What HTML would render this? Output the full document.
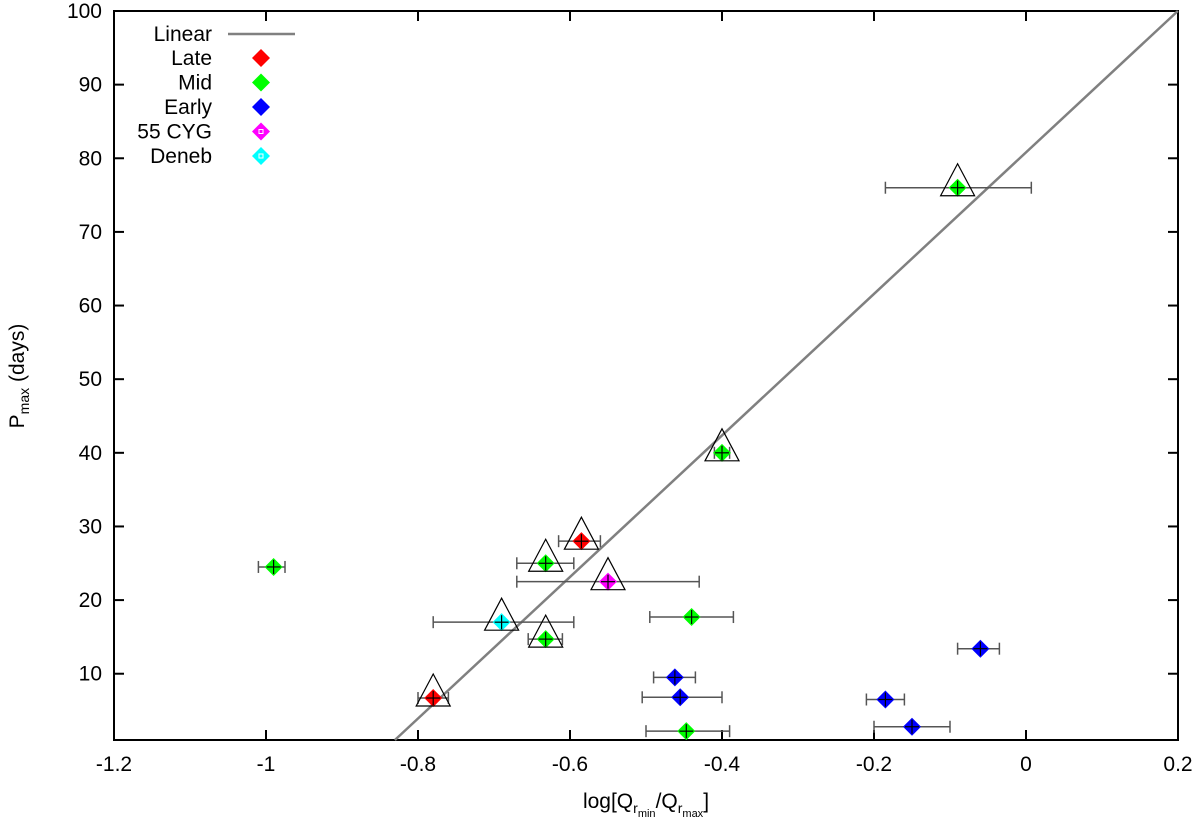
<!DOCTYPE html>
<html><head><meta charset="utf-8"><style>
body{margin:0;background:#fff;width:1200px;height:819px;overflow:hidden}
svg text{font-family:"Liberation Sans",sans-serif;font-size:21px;fill:#000}
</style></head><body>
<svg id="chart" width="1200" height="819" viewBox="0 0 1200 819" xmlns="http://www.w3.org/2000/svg">
<g id="axes"></g>
<g id="marks"></g>
<g id="legend"></g>
</svg>
<script>
const xTicks=[-1.2,-1,-0.8,-0.6,-0.4,-0.2,0,0.2];
const xTickLabels=["-1.2","-1","-0.8","-0.6","-0.4","-0.2","0","0.2"];
const yTicks=[10,20,30,40,50,60,70,80,90,100];
const ptX=[-0.09,-0.40,-0.585,-0.632,-0.55,-0.69,-0.632,-0.78,-0.99,-0.44,-0.462,-0.455,-0.447,-0.06,-0.185,-0.15];
const ptY=[76,40,28,25,22.5,17,14.7,6.7,24.5,17.7,9.5,6.8,2.2,13.4,6.5,2.8];
const errLo=[-0.185,-0.41,-0.615,-0.67,-0.67,-0.78,-0.655,-0.80,-1.01,-0.495,-0.49,-0.505,-0.50,-0.09,-0.21,-0.20];
const errHi=[0.007,-0.39,-0.56,-0.595,-0.43,-0.595,-0.61,-0.76,-0.975,-0.385,-0.435,-0.40,-0.39,-0.035,-0.16,-0.10];
const ptClass=["Mid","Mid","Late","Mid","55 CYG","Deneb","Mid","Late","Mid","Mid","Early","Early","Mid","Early","Early","Early"];
const ptTri=[1,1,1,1,1,1,1,1,0,0,0,0,0,0,0,0];
const fitSlope=96.1, fitIntercept=80.8;
const classes=["Late","Mid","Early","55 CYG","Deneb"];
const classColors=["#ff0000","#00ff00","#0000ff","#ff00ff","#00ffff"];

const L=114,R=1178,T=11,B=740,XMIN=-1.2,XMAX=0.2,YMIN=1,YMAX=100;
const sx=v=>L+(v-XMIN)/(XMAX-XMIN)*(R-L);
const sy=v=>B-(v-YMIN)/(YMAX-YMIN)*(B-T);
const NS="http://www.w3.org/2000/svg";
function mk(parent,tag,attrs){const e=document.createElementNS(NS,tag);for(const k in attrs)e.setAttribute(k,attrs[k]);parent.appendChild(e);return e;}
const axes=document.getElementById('axes'),marks=document.getElementById('marks'),leg=document.getElementById('legend');

let f=mk(axes,'rect',{x:L,y:T,width:R-L,height:B-T,fill:'none',stroke:'#000','stroke-width':2});

xTicks.forEach((v,i)=>{const x=sx(v);
 mk(axes,'line',{x1:x,x2:x,y1:B,y2:B-10,stroke:'#000','stroke-width':2});
 mk(axes,'line',{x1:x,x2:x,y1:T,y2:T+10,stroke:'#000','stroke-width':2});
 const t=mk(axes,'text',{x:x,y:B+31,'text-anchor':'middle'});t.textContent=xTickLabels[i];
 });
yTicks.forEach(v=>{const y=sy(v);
 mk(axes,'line',{x1:L,x2:L+10,y1:y,y2:y,stroke:'#000','stroke-width':2});
 mk(axes,'line',{x1:R,x2:R-10,y1:y,y2:y,stroke:'#000','stroke-width':2});
 const t=mk(axes,'text',{x:L-12,y:y+7,'text-anchor':'end'});t.textContent=v;
 });
let xt=mk(axes,'text',{x:646,y:808,'text-anchor':'middle'});
xt.innerHTML='log[Q<tspan font-size="14" dy="5">r</tspan><tspan font-size="11" dy="4">min</tspan><tspan dy="-9">/Q</tspan><tspan font-size="14" dy="5">r</tspan><tspan font-size="11" dy="4">max</tspan><tspan dy="-9">]</tspan>';

let yt=mk(axes,'text',{x:0,y:0,transform:'translate(24,376) rotate(-90)','text-anchor':'middle'});
yt.innerHTML='P<tspan font-size="14" dy="5">max</tspan><tspan dy="-5"> (days)</tspan>';


const x0=(YMIN-fitIntercept)/fitSlope, x1=Math.min(XMAX,(YMAX-fitIntercept)/fitSlope);
let fl=mk(marks,'line',{x1:sx(x0),y1:sy(YMIN),x2:sx(x1),y2:sy(fitSlope*x1+fitIntercept),stroke:'#808080','stroke-width':2.5});


function diamond(g,cx,cy,r,c){return mk(g,'polygon',{points:`${cx},${cy-r} ${cx+r},${cy} ${cx},${cy+r} ${cx-r},${cy}`,fill:c});}
ptX.forEach((v,i)=>{
 const g=mk(marks,'g',{});
 
 const cx=sx(v),cy=sy(ptY[i]);const c=classColors[classes.indexOf(ptClass[i])];
 const a=sx(errLo[i]),b=sx(errHi[i]);
 mk(g,'line',{x1:a,x2:b,y1:cy,y2:cy,stroke:'#555','stroke-width':1.5});
 mk(g,'line',{x1:a,x2:a,y1:cy-6,y2:cy+6,stroke:'#555','stroke-width':1.5});
 mk(g,'line',{x1:b,x2:b,y1:cy-6,y2:cy+6,stroke:'#555','stroke-width':1.5});
 diamond(g,cx,cy,9,c);
 mk(g,'line',{x1:cx,x2:cx,y1:cy-7,y2:cy+7,stroke:'#000','stroke-width':1.2});
 mk(g,'line',{x1:cx-7,x2:cx+7,y1:cy,y2:cy,stroke:'#000','stroke-width':1.2});
 if(ptTri[i]) mk(g,'polygon',{points:`${cx},${cy-24} ${cx+17},${cy+8} ${cx-17},${cy+8}`,fill:'none',stroke:'#000','stroke-width':1.2});
});

let lt=mk(leg,'text',{x:212,y:41,'text-anchor':'end'});lt.textContent='Linear';

mk(leg,'line',{x1:228,x2:295,y1:34,y2:34,stroke:'#808080','stroke-width':2.5});
classes.forEach((c,i)=>{const y=58+i*24.5;
 const t=mk(leg,'text',{x:212,y:y+7,'text-anchor':'end'});t.textContent=c;
 
 diamond(leg,261,y,9,classColors[i]);
 if(i>=3) mk(leg,'rect',{x:259,y:y-2,width:4,height:4,fill:'none',stroke:'#fff','stroke-width':1});
});
</script>
</body></html>
